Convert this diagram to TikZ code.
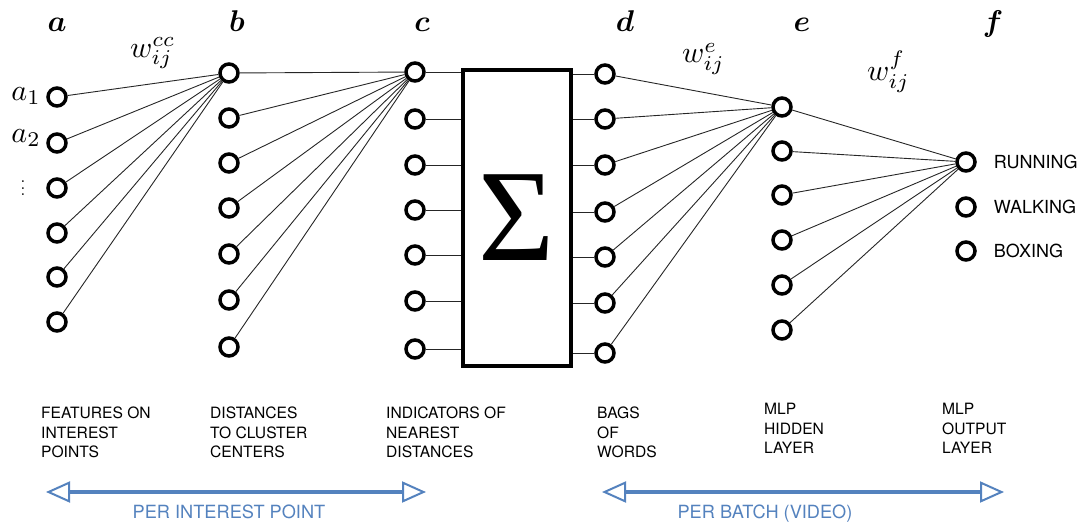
\documentclass[tikz,border=0pt]{standalone}
\usepackage{amsmath, amssymb}
\usepackage{bm}
\usepackage{fontspec}
\usepackage[dvipsnames]{xcolor}
\usepackage{tikz}
\usetikzlibrary{arrows.meta, positioning}

\newfontfamily\labelfont{TeX Gyre Heros}
\newfontfamily\sigmafont{Liberation Serif}
\definecolor{spanblue}{RGB}{84,130,190}
\newcommand{\bigmath}[1]{\scalebox{3}{$#1$}}

\begin{document}
\begin{tikzpicture}[x=1pt, y=-1pt,
        unit/.style={circle, draw, line width=3.5pt, minimum size=18pt, inner sep=0pt},
        wire/.style={line width=0.9pt, black!85},
        layername/.style={anchor=base, inner sep=0pt},
        weight/.style={anchor=base west, inner sep=0pt},
        stage/.style={anchor=north west, align=left, inner sep=0pt, font=\labelfont\fontsize{15.6}{19.5}\selectfont},
        classname/.style={anchor=west, inner sep=0pt, font=\labelfont\fontsize{18}{20}\selectfont},
        scopearrow/.style={spanblue, line width=4pt,
            {Triangle[open, length=24pt, width=21pt, line width=2pt]}-{Triangle[open, length=24pt, width=21pt, line width=2pt]}},
        scopetext/.style={anchor=base, text=spanblue, font=\labelfont\fontsize{18.2}{20}\selectfont}]
        \useasboundingbox (0,0) rectangle (1083,527);

        % layer letters and weights
        \node[layername] (alab) at (57,32)  {\bigmath{\bm{a}}};
        \node[layername] (blab) at (237,32) {\bigmath{\bm{b}}};
        \node[layername] (clab) at (422,32) {\bigmath{\bm{c}}};
        \node[layername] (dlab) at (625,32) {\bigmath{\bm{d}}};
        \node[layername] (elab) at (802,32) {\bigmath{\bm{e}}};
        \node[layername] (flab) at (993,32) {\bigmath{\bm{f}}};
        \node[weight] (wcc) at (130,57) {\bigmath{w_{ij}^{cc}}};
        \node[weight] (we)  at (682,63) {\bigmath{w_{ij}^{e}}};
        \node[weight] (wf)  at (867,80) {\bigmath{w_{ij}^{f}}};

        % features on interest points
        \node[unit] at (57, 97)  (a1) {};
        \node[unit] at (57, 143) (a2) {};
        \node[unit] at (57, 188) (a3) {};
        \node[unit] at (57, 233) (a4) {};
        \node[unit] at (57, 277) (a5) {};
        \node[unit] at (57, 322) (a6) {};
        \node[anchor=base east, inner sep=0pt] (a1lab) at (41,100) {\bigmath{a_1}};
        \node[anchor=base east, inner sep=0pt] (a2lab) at (41,142) {\bigmath{a_2}};
        \node[inner sep=0pt] (avdots) at (23,183) {\scalebox{1.7}{$\vdots$}};

        % distances to cluster centers
        \node[unit] at (229, 73)  (b1) {};
        \node[unit] at (229, 118) (b2) {};
        \node[unit] at (229, 163) (b3) {};
        \node[unit] at (229, 208) (b4) {};
        \node[unit] at (229, 254) (b5) {};
        \node[unit] at (229, 300) (b6) {};
        \node[unit] at (229, 347) (b7) {};

        % indicators
        \node[unit] at (415, 72)  (c1) {};
        \node[unit] at (415, 119) (c2) {};
        \node[unit] at (415, 165) (c3) {};
        \node[unit] at (415, 210) (c4) {};
        \node[unit] at (415, 255) (c5) {};
        \node[unit] at (415, 301) (c6) {};
        \node[unit] at (415, 349) (c7) {};

        \node[draw, line width=4pt, minimum width=108pt, minimum height=296pt, inner sep=0pt,
              font=\sigmafont\fontsize{131}{131}\selectfont] at (517, 218) (sumbox) {Σ};

        % bag of words
        \node[unit] at (605, 74)  (d1) {};
        \node[unit] at (605, 119) (d2) {};
        \node[unit] at (605, 165) (d3) {};
        \node[unit] at (605, 212) (d4) {};
        \node[unit] at (605, 257) (d5) {};
        \node[unit] at (605, 303) (d6) {};
        \node[unit] at (605, 353) (d7) {};

        % hidden layer
        \node[unit] at (782, 107) (e1) {};
        \node[unit] at (782, 151) (e2) {};
        \node[unit] at (782, 195) (e3) {};
        \node[unit] at (782, 240) (e4) {};
        \node[unit] at (782, 285) (e5) {};
        \node[unit] at (782, 330) (e6) {};

        % output layer
        \node[unit] at (966, 162) (f1) {};
        \node[unit] at (966, 207) (f2) {};
        \node[unit] at (966, 251) (f3) {};
        \node[classname, right=17pt of f1] (run)  {RUNNING};
        \node[classname, right=17pt of f2] (walk) {WALKING};
        \node[classname, right=17pt of f3] (box)  {BOXING};

        \draw [wire] (a1) -- (b1);
        \draw [wire] (a2) -- (b1);
        \draw [wire] (a3) -- (b1);
        \draw [wire] (a4) -- (b1);
        \draw [wire] (a5) -- (b1);
        \draw [wire] (a6) -- (b1);

        \draw [wire] (b1) -- (c1);
        \draw [wire] (b2) -- (c1);
        \draw [wire] (b3) -- (c1);
        \draw [wire] (b4) -- (c1);
        \draw [wire] (b5) -- (c1);
        \draw [wire] (b6) -- (c1);
        \draw [wire] (b7) -- (c1);

        \draw [wire] (c1) -- (c1 -| sumbox.west);
        \draw [wire] (c2) -- (c2 -| sumbox.west);
        \draw [wire] (c3) -- (c3 -| sumbox.west);
        \draw [wire] (c4) -- (c4 -| sumbox.west);
        \draw [wire] (c5) -- (c5 -| sumbox.west);
        \draw [wire] (c6) -- (c6 -| sumbox.west);
        \draw [wire] (c7) -- (c7 -| sumbox.west);

        \draw [wire] (d1 -| sumbox.east) -- (d1);
        \draw [wire] (d2 -| sumbox.east) -- (d2);
        \draw [wire] (d3 -| sumbox.east) -- (d3);
        \draw [wire] (d4 -| sumbox.east) -- (d4);
        \draw [wire] (d5 -| sumbox.east) -- (d5);
        \draw [wire] (d6 -| sumbox.east) -- (d6);
        \draw [wire] (d7 -| sumbox.east) -- (d7);

        \draw [wire] (d1) -- (e1);
        \draw [wire] (d2) -- (e1);
        \draw [wire] (d3) -- (e1);
        \draw [wire] (d4) -- (e1);
        \draw [wire] (d5) -- (e1);
        \draw [wire] (d6) -- (e1);
        \draw [wire] (d7) -- (e1);

        \draw [wire] (e1) -- (f1);
        \draw [wire] (e2) -- (f1);
        \draw [wire] (e3) -- (f1);
        \draw [wire] (e4) -- (f1);
        \draw [wire] (e5) -- (f1);
        \draw [wire] (e6) -- (f1);

        % what each column holds
        \node[stage] (featlab) at (41,407)  {FEATURES ON\\INTEREST\\POINTS};
        \node[stage] (distlab) at (210,407) {DISTANCES\\TO CLUSTER\\CENTERS};
        \node[stage] (indlab)  at (386,407) {INDICATORS OF\\NEAREST\\DISTANCES};
        \node[stage] (bowlab)  at (597,407) {BAGS\\OF\\WORDS};
        \node[stage] (hidlab)  at (764,403) {MLP\\HIDDEN\\LAYER};
        \node[stage] (outlab)  at (942,403) {MLP\\OUTPUT\\LAYER};

        % scope arrows
        \coordinate (pipleft)  at (46,492);
        \coordinate (pipright) at (426,492);
        \coordinate (pbleft)   at (602,492);
        \coordinate (pbright)  at (1004,492);
        \draw [scopearrow] (pipleft) -- (pipright);
        \draw [scopearrow] (pbleft) -- (pbright);
        \node[scopetext] (piplab) at (229,518) {PER INTEREST POINT};
        \node[scopetext] (pblab)  at (765,518) {PER BATCH (VIDEO)};
\end{tikzpicture}
\end{document}
